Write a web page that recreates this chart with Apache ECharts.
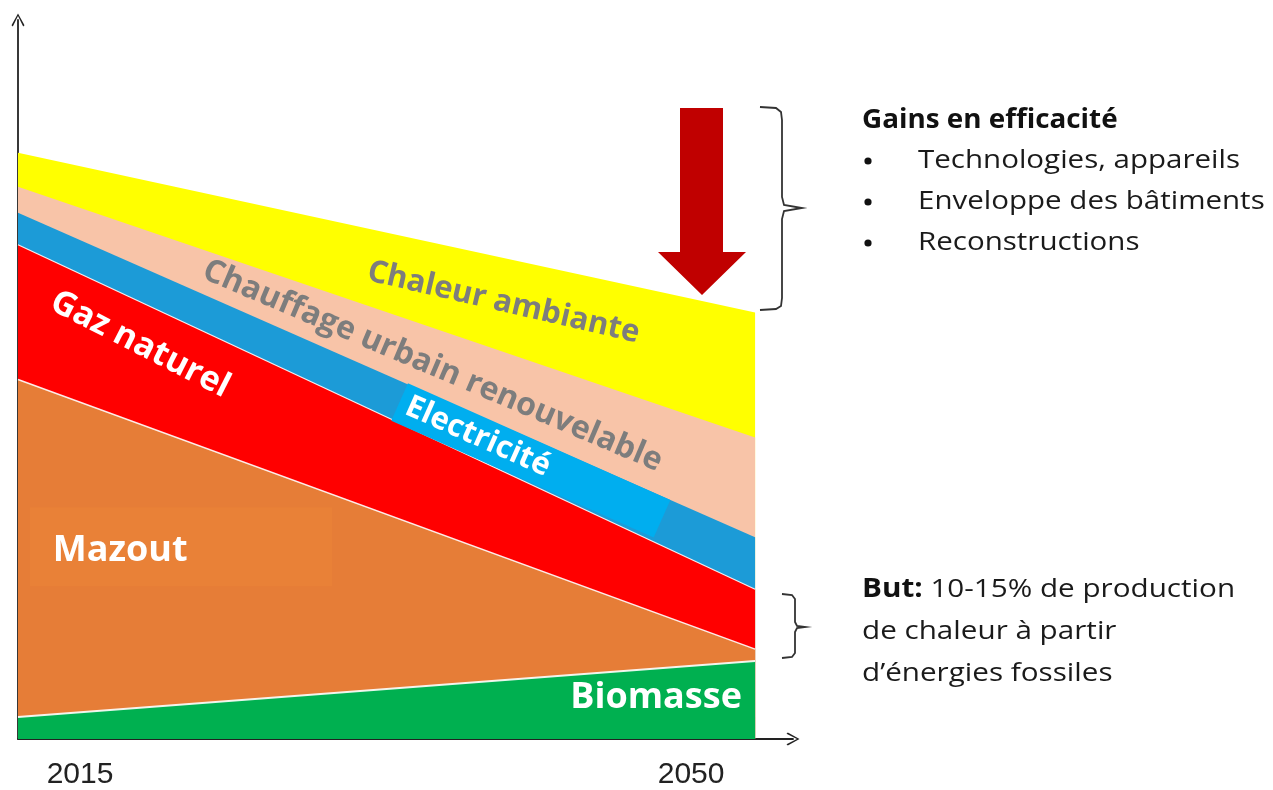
<!DOCTYPE html>
<html><head><meta charset="utf-8">
<script src="https://cdn.jsdelivr.net/npm/echarts@6/dist/echarts.min.js"></script>
<style>html,body{margin:0;padding:0;background:#fff}#c{width:1273px;height:790px}</style>
</head><body><div id="c"></div><script>
// ---- data (arbitrary energy units) ----
const years = [2015, 2050];
const xTickLabels = ['2015', '2050'];
const biomasse = [22, 78];
const mazout = [338, 12];
const gazNaturel = [135, 60];
const electricite = [32, 52];
const chauffageUrbain = [26, 100];
const chaleurAmbiante = [34, 125];
const seriesNames = ['Biomasse', 'Mazout', 'Gaz naturel', 'Electricité', 'Chauffage urbain renouvelable', 'Chaleur ambiante'];
const sideTitle = 'Gains en efficacité';
const sideBullets = ['Technologies, appareils', 'Enveloppe des bâtiments', 'Reconstructions'];
const goalLines = ['{b|But:} 10-15% de production', 'de chaleur à partir', 'd\u2019énergies fossiles'];

const FONT = '"Open Sans", "Noto Sans", sans-serif';
const gray = '#7d7d7d';

function lbl(name, coord, rot, size, color, extra) {
  return {
    name: name, coord: coord, symbol: 'rect', symbolSize: 1,
    itemStyle: { color: 'rgba(0,0,0,0)' },
    label: Object.assign({
      show: true, position: 'inside', formatter: name, rotate: rot,
      fontFamily: FONT, fontWeight: 'bold', fontSize: size, color: color
    }, extra || {})
  };
}

const colors = ['#00B050', '#E67D37', '#FF0000', '#1C9BD7', '#F8C4A8', '#FFFF00'];
const values = [biomasse, mazout, gazNaturel, electricite, chauffageUrbain, chaleurAmbiante];
const lineW = [2, 1.5, 1.2, 0, 0, 0];

// cumulative tops of each layer (stacked bottom -> top)
const running = years.map(() => 0);
const cumulative = values.map(v => v.map((val, i) => (running[i] += val)));

// draw top layer first so lower layers paint over it
const series = [];
for (let i = values.length - 1; i >= 0; i--) {
  series.push({
    name: seriesNames[i], type: 'line',
    data: years.map((y, j) => [y, cumulative[i][j]]),
    symbol: 'none', smooth: false,
    lineStyle: { color: '#ffffff', width: lineW[i] || 0.01, opacity: lineW[i] ? 0.9 : 0 },
    areaStyle: { color: colors[i], opacity: 1, origin: 'start' },
    itemStyle: { color: colors[i] },
    z: 2
  });
}

series[series.length - 1].markPoint = {
  silent: true, animation: false,
  data: [
    { name: 'mzbox', coord: [2022.74, 192.5], symbol: 'rect', symbolSize: [302, 79],
      itemStyle: { color: '#E98137' }, label: { show: false } },
    lbl('Mazout', [2019.85, 189], 0, 36, '#ffffff'),
    lbl('Biomasse', [2045.3, 41], 0, 36, '#ffffff'),
    lbl('Gaz naturel', [2020.8, 395], -27, 34, '#ffffff'),
    lbl('Electricité', [2039.35, 279], -24, 31, '#ffffff',
      { backgroundColor: '#00AEEF', padding: [6, 124, 4, 8] }),
    lbl('Chauffage urbain renouvelable', [2034.68, 373.5], -23, 32, gray),
    lbl('Chaleur ambiante', [2038.05, 437], -13, 31, gray)
  ]
};

const chevron = 'path://M5,0 L10,9 L9,10 L5,2 L1,10 L0,9 Z';

const braceStyle = { fill: 'none', stroke: '#333', lineWidth: 1.8 };
const graphic = [
  { type: 'polygon', shape: { points: [[680,108],[723,108],[723,252],[746,252],[702,295],[658,252],[680,252]] },
    style: { fill: '#C00000' }, z: 10 },
  { type: 'polyline', shape: { points: [[760,107],[776,108],[781,112],[782,120],[782,197],[784,205],[802,208],[784,211],[782,219],[782,298],[781,306],[776,309],[760,310]] },
    style: braceStyle, z: 10 },
  { type: 'polyline', shape: { points: [[782,594],[792,595],[795,599],[795,622],[797,626],[805,627],[797,628],[795,632],[795,653],[792,657],[782,658]] },
    style: braceStyle, z: 10 },
  { type: 'text', x: 862, y: 121, scaleX: 1.07,
    style: { text: sideTitle, font: 'bold 26px ' + FONT, fill: '#111', verticalAlign: 'middle' } }
];
sideBullets.forEach((t, i) => {
  const y = 161 + i * 41;
  graphic.push({ type: 'circle', shape: { cx: 868, cy: y, r: 3.6 }, style: { fill: '#111' } });
  graphic.push({ type: 'text', x: 918, y: y, scaleX: 1.135,
    style: { text: t, font: '26px ' + FONT, fill: '#1a1a1a', verticalAlign: 'middle' } });
});
goalLines.forEach((t, i) => {
  graphic.push({ type: 'text', x: 862, y: 590 + i * 42, scaleX: 1.14,
    style: { text: t, font: '26px ' + FONT, fill: '#1a1a1a', verticalAlign: 'middle',
      rich: { b: { font: 'bold 26px ' + FONT, fill: '#111' } } } });
});

const chart = echarts.init(document.getElementById('c'), null, { renderer: 'canvas' });
chart.setOption({
  animation: false,
  backgroundColor: '#ffffff',
  grid: { left: 18, right: 480, top: 20, bottom: 50, containLabel: false },
  xAxis: {
    type: 'value', min: 2015, max: 2051.8, interval: 5,
    splitLine: { show: false }, axisTick: { show: false },
    axisLine: { show: true, lineStyle: { color: '#222', width: 1.8 },
      symbol: ['none', chevron], symbolSize: [15, 13] },
    axisLabel: {
      show: true, margin: 21, showMinLabel: true, showMaxLabel: false,
      formatter: v => {
        const i = years.indexOf(Math.round(v * 100) / 100);
        if (i < 0) return '';
        return i === 0 ? '{a|' + xTickLabels[i] + '}' : '{b|' + xTickLabels[i] + '}';
      },
      rich: {
        a: { fontFamily: '"Liberation Sans", Arial, sans-serif', fontSize: 30, color: '#222', padding: [0, 0, 0, 124] },
        b: { fontFamily: '"Liberation Sans", Arial, sans-serif', fontSize: 30, color: '#222', padding: [0, 128, 0, 0] }
      }
    }
  },
  yAxis: {
    type: 'value', min: 0, max: 720,
    splitLine: { show: false }, axisTick: { show: false }, axisLabel: { show: false },
    axisLine: { show: true, lineStyle: { color: '#222', width: 1.8 },
      symbol: ['none', chevron], symbolSize: [15, 13] }
  },
  series: series,
  graphic: graphic
});
</script></body></html>
